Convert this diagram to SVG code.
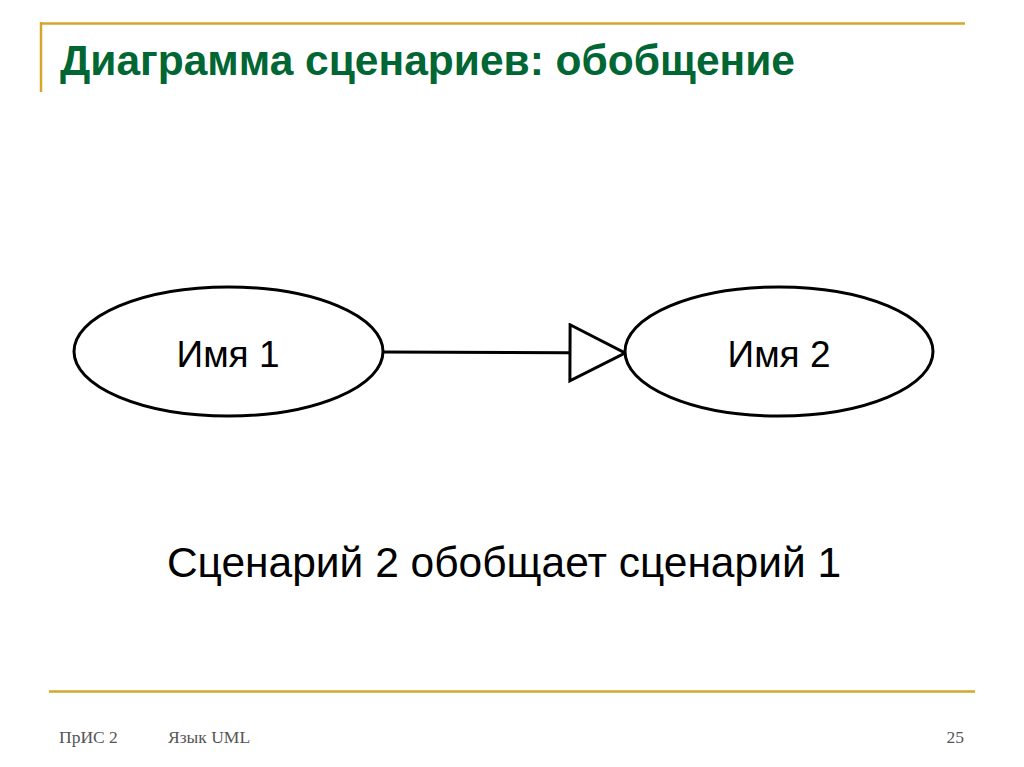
<svg xmlns="http://www.w3.org/2000/svg" width="1024" height="767" viewBox="0 0 1024 767">
<style>
.rule{stroke:#d4a72c;stroke-width:2.5;fill:none}
.node{fill:#fff;stroke:#000;stroke-width:3}
.lbl{font-family:"Liberation Sans",Arial,sans-serif;font-size:37px;fill:#000;text-anchor:middle}
.foot{font-family:"Liberation Serif","Times New Roman",serif;font-size:17.5px;fill:#555}
</style>
<defs>
<marker id="gen" markerWidth="60" markerHeight="62" refX="57" refY="30" orient="auto" markerUnits="userSpaceOnUse">
<polygon points="2,2 57,30 2,58" fill="#fff" stroke="#000" stroke-width="3"/>
</marker>
</defs>
<rect width="1024" height="767" fill="#fff"/>
<line class="rule" x1="40" y1="23.5" x2="965" y2="23.5"/>
<line class="rule" x1="41" y1="22" x2="41" y2="92"/>
<line class="rule" x1="49" y1="691.5" x2="975" y2="691.5"/>
<text x="60" y="75" font-family="Liberation Sans,Arial,sans-serif" font-weight="bold" font-size="42.5" fill="#006633">Диаграмма сценариев: обобщение</text>
<g id="connectors">
<line x1="383" y1="352" x2="625" y2="353" stroke="#000" stroke-width="3" marker-end="url(#gen)"/>
</g>
<g id="node1">
<ellipse class="node" cx="228.5" cy="351.5" rx="154.5" ry="64.5"/>
<text class="lbl" x="228" y="367">Имя 1</text>
</g>
<g id="node2">
<ellipse class="node" cx="779" cy="351.5" rx="154" ry="64.5"/>
<text class="lbl" x="779" y="367">Имя 2</text>
</g>
<text x="504" y="577" font-family="Liberation Sans,Arial,sans-serif" font-size="42.5" text-anchor="middle" fill="#000">Сценарий 2 обобщает сценарий 1</text>
<text class="foot" x="59" y="743">ПрИС 2</text>
<text class="foot" x="168" y="743">Язык UML</text>
<text class="foot" x="964" y="743" text-anchor="end">25</text>
</svg>
